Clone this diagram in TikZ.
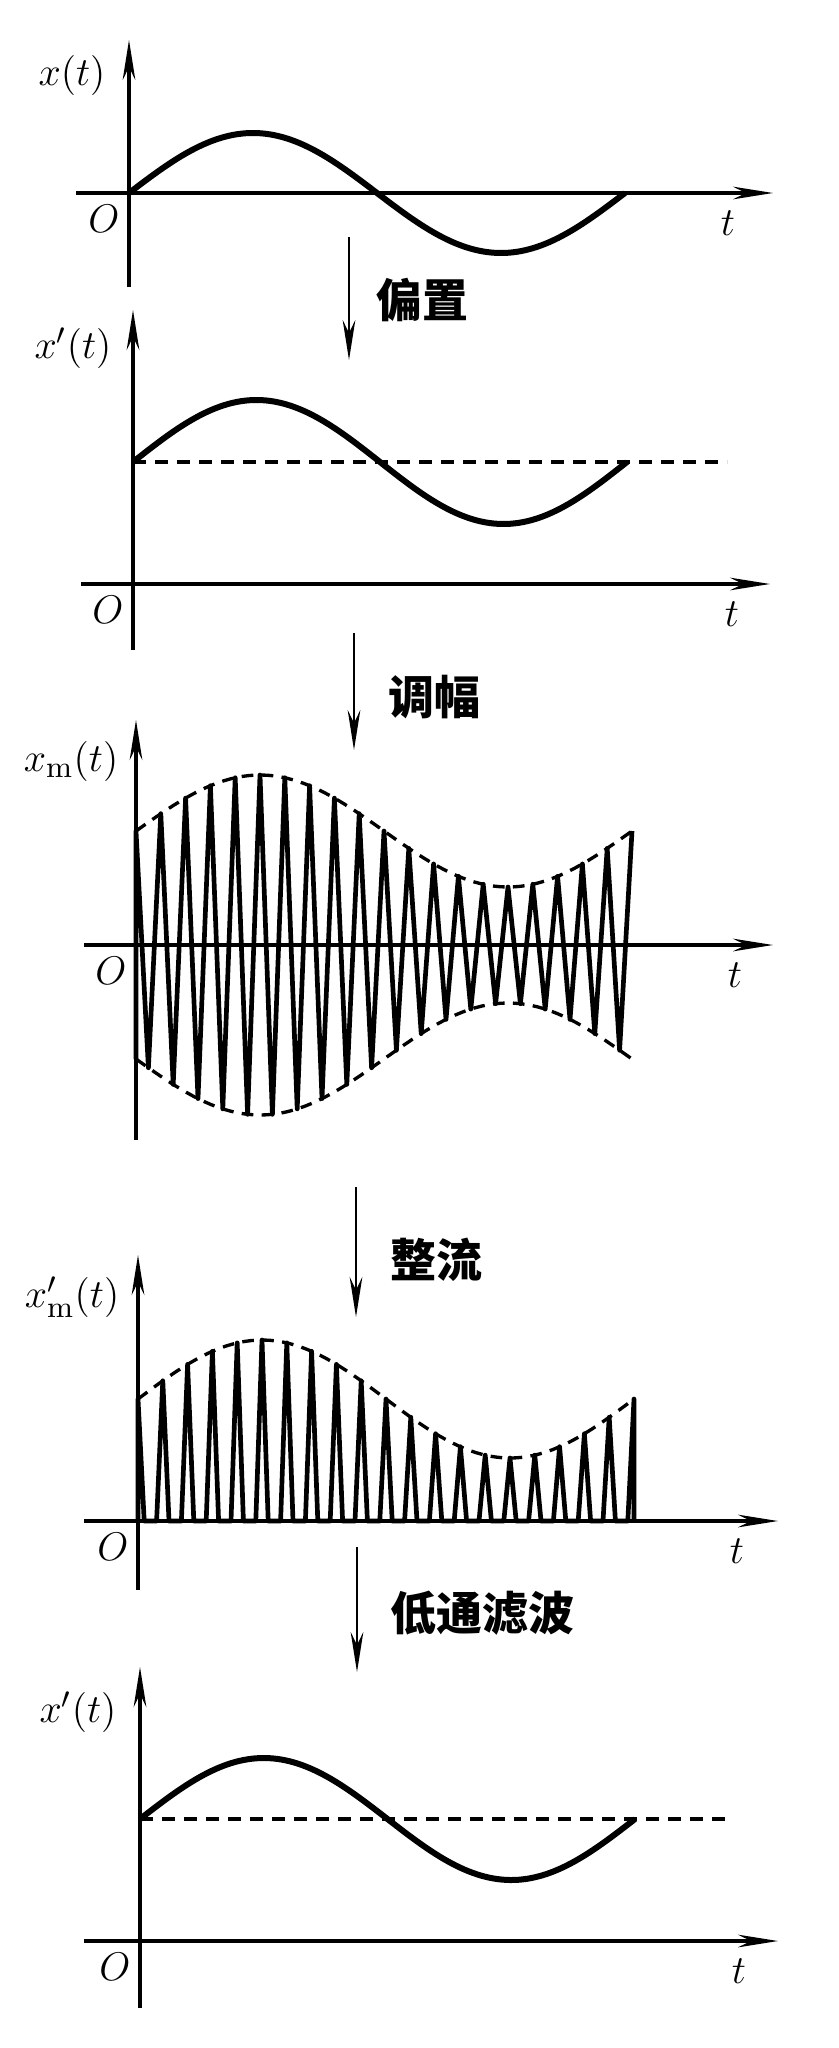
\documentclass[tikz,border=0pt]{standalone}
\usepackage{fontspec}
\newfontfamily\cjk{Noto Sans CJK SC}
\usetikzlibrary{arrows.meta,positioning,calc}

\begin{document}
\begin{tikzpicture}[x=0.3pt,y=-0.3pt,>={Stealth[length=12pt,width=3.8pt]},
    axis/.style={line width=1pt,->},
    flow/.style={line width=0.8pt,->},
    signal/.style={line width=1.8pt,line join=round},
    level/.style={line width=1.3pt,dash pattern=on 4pt off 2.6pt},
    envelope/.style={line width=1pt,dash pattern=on 3.5pt off 2.5pt},
    carrier/.style={line width=1.4pt,line join=round},
    lbl/.style={font=\fontsize{13}{15}\selectfont,inner sep=0pt},
    op/.style={font=\cjk\bfseries\fontsize{13.8}{16}\selectfont,inner sep=0pt}]
                  \useasboundingbox (0,0) rectangle (839,2048);

                  % Axes, origin and time label of the five panels.
                  \foreach \ox/\oy/\xl/\xr/\yt/\yb [count=\i] in {
                      129/193/76/773/40/287,
                      133/584/81/770/310/650,
                      136/945/84/773/720/1140,
                      138/1521/84/778/1255/1590,
                      140/1941/84/778/1667/2008
                  }{
                      \draw[axis] (\xl,\oy) -- (\xr,\oy);
                      \draw[axis] (\ox,\yb) -- (\ox,\yt);

                      \node[lbl] (O\i) at (\ox-25,\oy+26) {$O$};
                      \node[lbl] (t\i) at (\ox+599,\oy+30) {$t$};
                  }

                  % Signal names.
                  \node[lbl] (xlab) at (72,76) {$x(t)$};
                  \node[lbl] (xblab) at (73,348) {$x'(t)$};
                  \node[lbl] (xmlab) at (71,761) {$x_{\mathrm{m}}(t)$};
                  \node[lbl] (xrlab) at (72,1297) {$x'_{\mathrm{m}}(t)$};
                  \node[lbl] (xflab) at (78,1712) {$x'(t)$};

                  % Original signal.
                  \draw[signal] plot[domain=0:496,samples=120]
                      ({129+\x},{193-60*sin(\x/496*360)});

                  % Biased signal.
                  \draw[level] (133,462) -- (727,462);
                  \draw[signal] plot[domain=0:494,samples=120]
                      ({133+\x},{462-62*sin(\x/494*360)});

                  % Modulated carrier and its envelope.
                  \draw[carrier] (136,1059) -- (136,831)
                      \foreach \k in {1,...,40}{
                          -- ({136+12.4*\k},{945-cos(180*\k)*(114+56*sin(9*\k))})
                      };
                  \draw[envelope] plot[domain=0:496,samples=80]
                      ({136+\x},{945-114-56*sin(\x/496*360)});
                  \draw[envelope] plot[domain=0:496,samples=80]
                      ({136+\x},{945+114+56*sin(\x/496*360)});

                  % Rectified carrier.
                  \draw[carrier] (138,1521) -- (138,1399)
                      \foreach \k in {1,...,20}{
                          -- ({138+24.8*\k-18.6},1521)
                          -- ({138+24.8*\k-6.2},1521)
                          -- ({138+24.8*\k},{1521-122-59*sin(18*\k)})
                      } -- (634,1521);
                  \draw[envelope] plot[domain=0:496,samples=80]
                      ({138+\x},{1521-122-59*sin(\x/496*360)});

                  % Filtered signal.
                  \draw[level] (140,1819) -- (732,1819);
                  \draw[signal] plot[domain=0:495,samples=120]
                      ({140+\x},{1819-61*sin(\x/495*360)});

                  % Processing steps.
                  \foreach \i/\xs/\ya/\yb/\lx/\ly/\txt in {
                      1/349/237/360/422/300/偏置,
                      2/354/633/750/434/697/调幅,
                      3/356/1187/1317/436/1260/整流,
                      4/357/1547/1672/482/1613/低通滤波
                  }{
                      \coordinate (s\i) at (\xs,\ya);
                      \coordinate (e\i) at (\xs,\yb);
                      \draw[flow] (s\i) -- (e\i);
                      \node[op] (step\i) at (\lx,\ly) {\txt};
                  }
                \end{tikzpicture}
\end{document}
